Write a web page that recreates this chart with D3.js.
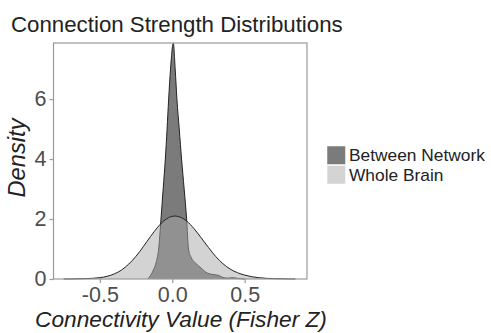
<!DOCTYPE html>
<html>
<head>
<meta charset="utf-8">
<script src="https://cdn.jsdelivr.net/npm/d3@7"></script>
<style>
  body { margin: 0; background: #fff; }
  text { font-family: "Liberation Sans", Arial, Helvetica, sans-serif; }
</style>
</head>
<body>
<div id="chart"></div>
<script>
// --------------- Data ---------------
const SERIES = ["Between Network", "Whole Brain"];
const X_TICKS = [-0.5, 0.0, 0.5];
const Y_TICKS = [0, 2, 4, 6];

// density curves: [connectivity, density]
const wholeBrain = [
  [-0.75, 0], [-0.7, 0.002], [-0.6, 0.012], [-0.5, 0.045], [-0.45, 0.09],
  [-0.4, 0.17], [-0.35, 0.3], [-0.3, 0.5], [-0.25, 0.76], [-0.2, 1.08],
  [-0.15, 1.42], [-0.1, 1.73], [-0.05, 1.97], [0, 2.09], [0.02, 2.1],
  [0.05, 2.07], [0.1, 1.93], [0.15, 1.68], [0.2, 1.37], [0.25, 1.05],
  [0.3, 0.75], [0.35, 0.51], [0.4, 0.33], [0.45, 0.21], [0.5, 0.13],
  [0.55, 0.075], [0.6, 0.042], [0.7, 0.012], [0.8, 0.003], [0.85, 0]
];
const betweenNetwork = [
  [-0.17, 0], [-0.15, 0.12], [-0.13, 0.3], [-0.11, 0.58], [-0.094, 1.0],
  [-0.078, 2.0], [-0.063, 3.0], [-0.048, 4.0], [-0.036, 5.0], [-0.025, 6.0],
  [-0.012, 7.0], [0.007, 7.87], [0.02, 7.0], [0.032, 6.0], [0.048, 5.0],
  [0.064, 4.0], [0.082, 3.0], [0.099, 2.0], [0.112, 1.0], [0.13, 0.72],
  [0.163, 0.52], [0.2, 0.36], [0.24, 0.2], [0.28, 0.15], [0.32, 0.12],
  [0.35, 0.05], [0.38, 0.03], [0.41, 0.045], [0.44, 0.03], [0.47, 0.01], [0.5, 0]
];

// --------------- Constants ---------------
const WIDTH = 491;
const HEIGHT = 333;
const PANEL = { left: 53.5, right: 307, top: 43, bottom: 279 };
const BETWEEN_COLOR = "#7b7b7b";
const WHOLE_COLOR = "#a8a8a8";
const AXIS_COLOR = "#9a9a9a";
const TICK_TEXT = "#4d4d4d";

const svg = d3.select("#chart").append("svg")
  .attr("width", WIDTH)
  .attr("height", HEIGHT);

const x = d3.scaleLinear().domain([-0.82, 0.93]).range([PANEL.left, PANEL.right]);
const y = d3.scaleLinear().domain([0, 7.87]).range([PANEL.bottom, PANEL.top]);

// fit a text to a target width by adjusting font size
function fitWidth(sel, target) {
  const w = sel.node().getComputedTextLength();
  const fs = parseFloat(sel.attr("font-size"));
  sel.attr("font-size", fs * target / w);
}

// --------------- Areas ---------------
const area = d3.area()
  .x(d => x(d[0]))
  .y0(y(0))
  .y1(d => y(d[1]))
  .curve(d3.curveMonotoneX);
const line = d3.line()
  .x(d => x(d[0]))
  .y(d => y(d[1]))
  .curve(d3.curveMonotoneX);

const plot = svg.append("g");

plot.append("path")
  .datum(betweenNetwork)
  .attr("d", area)
  .attr("fill", BETWEEN_COLOR);
plot.append("path")
  .datum(betweenNetwork)
  .attr("d", line)
  .attr("fill", "none")
  .attr("stroke", "#222")
  .attr("stroke-width", 1);

plot.append("path")
  .datum(wholeBrain)
  .attr("d", area)
  .attr("fill", WHOLE_COLOR)
  .attr("fill-opacity", 0.5);
plot.append("path")
  .datum(wholeBrain)
  .attr("d", line)
  .attr("fill", "none")
  .attr("stroke", "#222")
  .attr("stroke-width", 1);

// --------------- Panel border & axes ---------------
svg.append("rect")
  .attr("x", PANEL.left)
  .attr("y", PANEL.top)
  .attr("width", PANEL.right - PANEL.left)
  .attr("height", PANEL.bottom - PANEL.top)
  .attr("fill", "none")
  .attr("stroke", AXIS_COLOR)
  .attr("stroke-width", 1.2);

const xAxis = svg.append("g")
  .attr("transform", `translate(0,${PANEL.bottom})`)
  .call(d3.axisBottom(x).tickValues(X_TICKS).tickFormat(d3.format(".1f")).tickSize(4).tickPadding(4));
const yAxis = svg.append("g")
  .attr("transform", `translate(${PANEL.left},0)`)
  .call(d3.axisLeft(y).tickValues(Y_TICKS).tickFormat(d3.format("d")).tickSize(4).tickPadding(3));

[xAxis, yAxis].forEach(a => {
  a.select(".domain").remove();
  a.selectAll(".tick line").attr("stroke", AXIS_COLOR).attr("stroke-width", 1.2);
  a.selectAll(".tick text")
    .attr("fill", TICK_TEXT)
    .attr("font-size", 21.5)
    .attr("font-family", "Liberation Sans, Arial, sans-serif");
});
xAxis.selectAll(".tick text").text(d => d3.format(".1f")(d).replace("−", "-"));

// --------------- Titles ---------------
const title = svg.append("text")
  .attr("x", 11)
  .attr("y", 31.5)
  .attr("font-size", 23)
  .attr("fill", "#222")
  .text("Connection Strength Distributions");
fitWidth(title, 332);

const xTitle = svg.append("text")
  .attr("x", 181)
  .attr("y", 327)
  .attr("text-anchor", "middle")
  .attr("font-size", 22)
  .attr("font-style", "italic")
  .attr("fill", "#222")
  .text("Connectivity Value (Fisher Z)");
fitWidth(xTitle, 292);

const yTitle = svg.append("text")
  .attr("transform", "translate(25,158) rotate(-90)")
  .attr("text-anchor", "middle")
  .attr("font-size", 22)
  .attr("font-style", "italic")
  .attr("fill", "#222")
  .text("Density");
fitWidth(yTitle, 79);

// --------------- Legend ---------------
const legendColors = [BETWEEN_COLOR, "#d4d4d4"];
const legend = svg.append("g").attr("transform", "translate(327,146)");
const items = legend.selectAll("g")
  .data(SERIES)
  .enter()
  .append("g")
  .attr("transform", (_d, i) => `translate(0,${i * 19.5})`);
items.append("rect")
  .attr("width", 18.5)
  .attr("height", 18.5)
  .attr("fill", (_d, i) => legendColors[i])
  .attr("stroke", "#fff")
  .attr("stroke-width", 0.5);
items.append("text")
  .attr("x", 22)
  .attr("y", 15)
  .attr("font-size", 17)
  .attr("fill", "#222")
  .text(d => d);
fitWidth(items.select("text").filter((_d, i) => i === 0), 136);
items.selectAll("text").attr("font-size", items.select("text").attr("font-size"));
</script>
</body>
</html>
